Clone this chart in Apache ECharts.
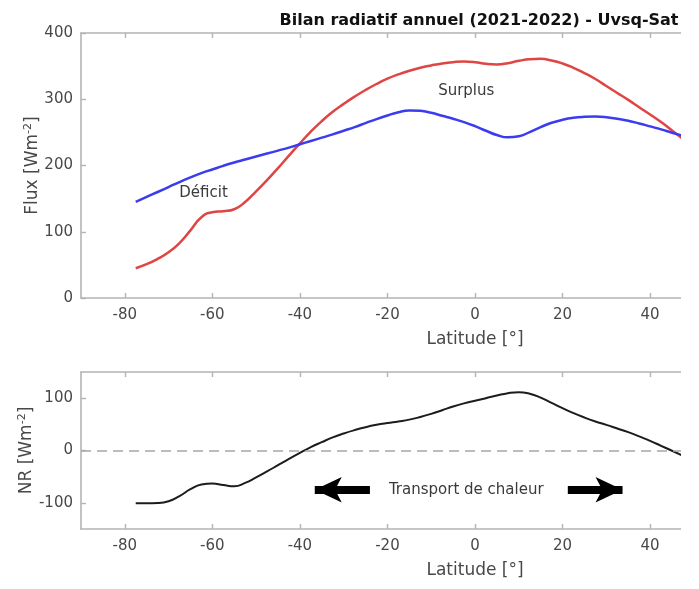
<!DOCTYPE html>
<html><head><meta charset="utf-8">
<script src="https://cdn.jsdelivr.net/npm/echarts@6/dist/echarts.min.js"></script>
<style>html,body{margin:0;padding:0;background:#fff;} #main{width:681px;height:589px;}</style>
</head><body><div id="main"></div>
<script>
const latitudes = [-77.5,-75,-72.5,-70,-67.5,-65,-62.5,-60,-57.5,-55,-52.5,-50,-47.5,-45,-42.5,-40,-37.5,-35,-32.5,-30,-27.5,-25,-22.5,-20,-17.5,-15,-12.5,-10,-7.5,-5,-2.5,0,2.5,5,7.5,10,12.5,15,17.5,20,22.5,25,27.5,30,32.5,35,37.5,40,42.5,45,47.5];
const fluxSurplusCurve = [45,51,59,69,83,102,122,129.5,131,134,145,161,178,196,215,233.5,251,267,281,293,304,314,323,331,337.5,343,347.5,351,354,356,357,356,353.5,352.5,354.5,358,360.5,361,358.5,354,347.5,339.5,330.5,320,309.5,299,288,277,265.5,253,240];
const fluxDeficitCurve = [145,152.5,160,167.5,175,182,188.5,194,199.5,204.5,209,213.5,218,222.5,227,232,237,242,247,252.5,258,264,270,275.5,280.5,283,282.5,279.5,275,270.5,265.5,259.5,252.5,246,242.5,244,250.5,258,264.5,269,272,273.5,274,273,270.5,267.5,263.5,259,254.5,249.5,245];
const netRadiation = [-101,-101,-100.5,-97,-87,-74,-65,-63,-66,-68.5,-62,-51.5,-40,-28,-16,-4.5,6.5,16,25,32.5,39,44.5,49,52.5,55.5,59,64,70,77,84,90,95,100,105,109.5,111.5,108.5,101,91,81,71.5,63,55.5,49,42,35,27,18.5,9,-0.5,-10];
const latTicks = [-80,-60,-40,-20,0,20,40,60,80];
const fluxTicks = [0,100,200,300,400];
const nrTicks = [-100,0,100];

const FONT = 'DejaVu Sans';
const axisColor = '#b4b4b4';
const labelColor = '#484848';

function xAx(grid, pos, withLabels) {
  return {
    type: 'value', gridIndex: grid, position: pos, min: -90, max: 90,
    axisLine: {show: true, onZero: false, lineStyle: {color: axisColor, width: 1.6}},
    axisTick: {show: true, inside: true, length: 5, customValues: latTicks, lineStyle: {color: axisColor, width: 1.4}},
    axisLabel: {show: withLabels, customValues: latTicks, color: labelColor, fontSize: 15, fontFamily: FONT, margin: 10},
    splitLine: {show: false},
    name: withLabels ? 'Latitude [°]' : '',
    nameLocation: 'middle', nameGap: 33, nameMoveOverlap: false,
    nameTextStyle: {color: labelColor, fontSize: 17, fontFamily: FONT}
  };
}
function yAx(grid, min, max, ticks, name, gap) {
  return {
    type: 'value', gridIndex: grid, min: min, max: max,
    axisLine: {show: true, onZero: false, lineStyle: {color: axisColor, width: 1.6}},
    axisTick: {show: true, inside: true, length: 5, customValues: ticks, lineStyle: {color: axisColor, width: 1.4}},
    axisLabel: {customValues: ticks, color: labelColor, fontSize: 15, fontFamily: FONT, margin: 8},
    splitLine: {show: false},
    name: name, nameLocation: 'middle', nameGap: gap, nameRotate: 90, nameMoveOverlap: false,
    nameTextStyle: {color: labelColor, fontSize: 17, fontFamily: FONT,
      rich: {sup: {fontSize: 11, fontFamily: FONT, color: labelColor, verticalAlign: 'top', padding: [0, 0, 9, 0]}}}
  };
}

const chart = echarts.init(document.getElementById('main'), null, {renderer: 'canvas'});
chart.setOption({
  animation: false,
  backgroundColor: '#fff',
  title: {
    text: 'Bilan radiatif annuel (2021-2022) - Uvsq-Sat',
    left: 474, top: 8, textAlign: 'center',
    textStyle: {fontFamily: FONT, fontWeight: 'bold', fontSize: 16, color: '#111'}
  },
  grid: [
    {left: 81, top: 33, width: 788, height: 265, containLabel: false, outerBoundsMode: 'none'},
    {left: 81, top: 372, width: 788, height: 157, containLabel: false, outerBoundsMode: 'none'}
  ],
  xAxis: [xAx(0, 'bottom', true), xAx(0, 'top', false), xAx(1, 'bottom', true), xAx(1, 'top', false)],
  yAxis: [
    yAx(0, 0, 400, fluxTicks, 'Flux [Wm{sup|-2}]', 38),
    yAx(1, -150, 150, nrTicks, 'NR [Wm{sup|-2}]', 44)
  ],
  series: [
    {
      type: 'line', xAxisIndex: 0, yAxisIndex: 0, smooth: 0.5, symbol: 'none',
      data: latitudes.map((x, i) => [x, fluxSurplusCurve[i]]),
      lineStyle: {color: '#de4543', width: 2.5},
      markPoint: {
        symbol: 'circle', symbolSize: 0, silent: true,
        label: {show: true, position: 'inside', color: '#3a3a3a', fontSize: 15, fontFamily: FONT},
        data: [
          {coord: [-62, 158], label: {formatter: 'Déficit'}},
          {coord: [-2, 313], label: {formatter: 'Surplus'}}
        ]
      }
    },
    {
      type: 'line', xAxisIndex: 0, yAxisIndex: 0, smooth: 0.5, symbol: 'none',
      data: latitudes.map((x, i) => [x, fluxDeficitCurve[i]]),
      lineStyle: {color: '#3b3bef', width: 2.5}
    },
    {
      type: 'line', xAxisIndex: 2, yAxisIndex: 1, smooth: 0.5, symbol: 'none',
      data: latitudes.map((x, i) => [x, netRadiation[i]]),
      lineStyle: {color: '#1c1c1c', width: 2},
      z: 3,
      markLine: {
        silent: true, symbol: 'none', label: {show: false},
        data: [
          {yAxis: 0, lineStyle: {type: [10, 6], color: '#a6a6a6', width: 1.6}},
          [{coord: [-24, -75], symbol: 'none', lineStyle: {type: 'solid', color: '#000', width: 8}},
           {coord: [-36.6, -75], symbol: 'arrow', symbolSize: [19, 27]}],
          [{coord: [21.2, -75], symbol: 'none', lineStyle: {type: 'solid', color: '#000', width: 8}},
           {coord: [33.7, -75], symbol: 'arrow', symbolSize: [19, 27]}]
        ]
      },
      markPoint: {
        symbol: 'circle', symbolSize: 0, silent: true,
        label: {show: true, position: 'inside', color: '#3a3a3a', fontSize: 15, fontFamily: FONT},
        data: [{coord: [-2, -75], label: {formatter: 'Transport de chaleur'}}]
      }
    }
  ]
});
</script></body></html>
